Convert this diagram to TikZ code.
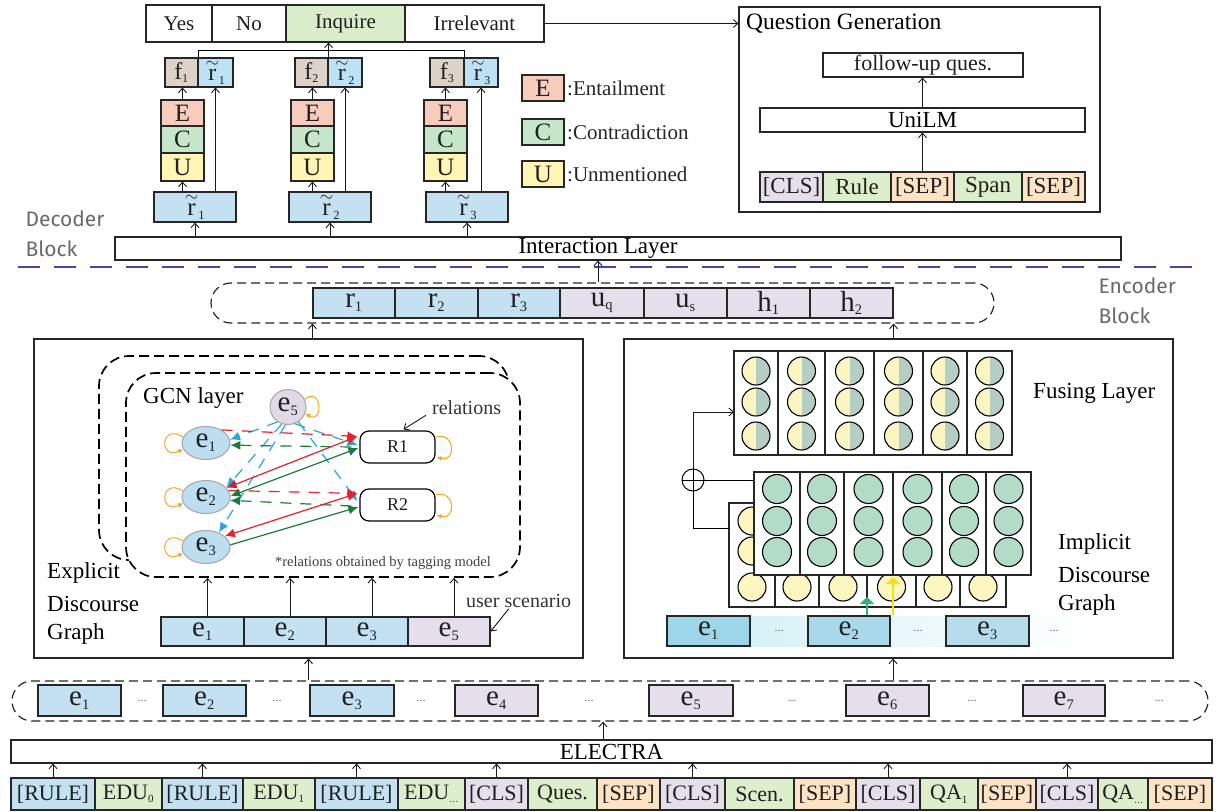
\documentclass[tikz,border=0pt]{standalone}
\usepackage{fontspec}
\setmainfont{Liberation Serif}
\newfontfamily\blockfont{Fira Sans}
\usetikzlibrary{arrows.meta,shapes.geometric,calc}
\newcommand\fz[1]{\fontsize{#1}{#1}\selectfont}
\newcommand\lab[2]{$\mathrm{#1}_{\scriptscriptstyle\mathrm{#2}}$}
\newcommand\tlab[1]{${\stackrel{\sim}{\mathrm{r}}}_{\scriptscriptstyle\mathrm{#1}}$}
\newcommand\boxnode[7][]{\node[cell,#1,minimum width={#5-#3},minimum height={#6-#4}] (#2) at ({(#3+#5)/2},{(#4+#6)/2}) {#7};}
\definecolor{blueC}{HTML}{C4E1F1}
\definecolor{lavC}{HTML}{E5DFEC}
\definecolor{grnC}{HTML}{DDEECD}
\definecolor{sepC}{HTML}{FDE3C6}
\definecolor{inqC}{HTML}{D9EDCB}
\definecolor{fC}{HTML}{DCD2C7}
\definecolor{rtC}{HTML}{BEE2F5}
\definecolor{Ecol}{HTML}{F8CCBD}
\definecolor{Ccol}{HTML}{C6E6CA}
\definecolor{Ucol}{HTML}{FFF5B5}
\definecolor{ellC}{HTML}{BCDEF0}
\definecolor{e5C}{HTML}{E0DAE6}
\definecolor{redA}{HTML}{E8222A}
\definecolor{redB}{HTML}{C1272D}
\definecolor{grnA}{HTML}{1B7A3A}
\definecolor{bluA}{HTML}{2AA5DE}
\definecolor{orgA}{HTML}{F6A623}
\definecolor{fyel}{HTML}{FBF5C4}
\definecolor{fgrn}{HTML}{B5CEC3}
\definecolor{gcirc}{HTML}{B2DCC6}
\definecolor{ycirc}{HTML}{FEF6C0}
\definecolor{divC}{HTML}{4646A6}
\definecolor{grayT}{HTML}{6A6A6A}
\definecolor{ieA}{HTML}{9DD5E9}
\definecolor{ieB}{HTML}{A8D8EA}
\definecolor{ieC}{HTML}{B6DCEC}
\definecolor{bandA}{HTML}{CDEFF5}
\definecolor{grnArr}{HTML}{2DB37A}
\definecolor{yelArr}{HTML}{F4E11C}
\begin{document}
\begin{tikzpicture}[x=1pt,y=-1pt,
  cell/.style={draw=black!85,line width=1.1pt,inner sep=0pt,text=black!88},
  arr/.style={draw=black!90,line width=0.9pt,-{Straight Barb[length=4.5pt,width=8pt]}},
  dashbox/.style={cell,dash pattern=on 9pt off 5pt,line width=1.2pt,fill=none},
  gdash/.style={cell,dash pattern=on 10pt off 5pt,line width=1.7pt,draw=black},
  ell/.style={ellipse,draw=black!35,line width=1pt,inner sep=0pt,font=\fz{29},text=black!88},
  gtip/.style={line width=1.2pt,-{Latex[length=10pt,width=9pt]}},
  gdsh/.style={gtip,dash pattern=on 11pt off 9pt},
  loopst/.style={draw=orgA,line width=1pt,-{Latex[length=5pt,width=5pt]}},
  blk/.style={font=\blockfont\fz{21},text=grayT,anchor=west},
  dots/.style={font=\fz{12},text=black!60}]
\fill[white] (0,0) rectangle (1217,811);
\useasboundingbox (0,0) rectangle (1217,811);

% ===== Decoder =====
\boxnode[font=\fz{21}]{yes}{146}{5}{212}{42}{Yes}
\boxnode[font=\fz{21}]{no}{212}{5}{286}{42}{No}
\boxnode[font=\fz{21},fill=inqC]{inq}{286}{5}{405}{42}{Inquire}
\boxnode[font=\fz{21}]{irr}{405}{5}{544}{42}{Irrelevant}

\boxnode[fill=fC,font=\fz{24}]{f1}{165}{58}{198}{87}{\lab{f}{1}}
\boxnode[fill=rtC,font=\fz{24}]{t1}{198}{58}{233}{87}{\tlab{1}}
\boxnode[fill=fC,font=\fz{24}]{f2}{295}{58}{328}{87}{\lab{f}{2}}
\boxnode[fill=rtC,font=\fz{24}]{t2}{328}{58}{362}{87}{\tlab{2}}
\boxnode[fill=fC,font=\fz{24}]{f3}{430}{58}{464}{87}{\lab{f}{3}}
\boxnode[fill=rtC,font=\fz{24}]{t3}{464}{58}{498}{87}{\tlab{3}}

\boxnode[fill=Ecol,font=\fz{25}]{E1}{161}{100}{204}{126}{E}
\boxnode[fill=Ccol,font=\fz{25}]{C1}{161}{126}{204}{153}{C}
\boxnode[fill=Ucol,font=\fz{25}]{U1}{161}{153}{204}{181}{U}
\boxnode[fill=Ecol,font=\fz{25}]{E2}{291}{100}{334}{126}{E}
\boxnode[fill=Ccol,font=\fz{25}]{C2}{291}{126}{334}{153}{C}
\boxnode[fill=Ucol,font=\fz{25}]{U2}{291}{153}{334}{181}{U}
\boxnode[fill=Ecol,font=\fz{25}]{E3}{424}{100}{467}{126}{E}
\boxnode[fill=Ccol,font=\fz{25}]{C3}{424}{126}{467}{153}{C}
\boxnode[fill=Ucol,font=\fz{25}]{U3}{424}{153}{467}{181}{U}

\boxnode[fill=blueC,font=\fz{25}]{rb1}{154}{192}{236}{222}{\tlab{1}}
\boxnode[fill=blueC,font=\fz{25}]{rb2}{289}{192}{371}{222}{\tlab{2}}
\boxnode[fill=blueC,font=\fz{25}]{rb3}{426}{192}{508}{222}{\tlab{3}}

\boxnode{inter}{115}{237}{1121}{260}{}
\node[font=\fz{23},text=black] (intert) at (598,248) {Interaction Layer};

\foreach \k in {1,2,3}{
  \draw[arr] (U\k.south |- rb\k.north) -- (U\k.south);
  \draw[arr] (E\k.north) -- (E\k.north |- f\k.south);
  \draw[arr] (t\k.south |- rb\k.north) -- (t\k.south);
  \draw[arr] (rb\k.south |- inter.north) -- (rb\k.south);
}
\coordinate (bus) at (0,50);
\draw[line width=0.9pt] (f1.north east) |- (f3.north east |- bus) -- (f3.north east);
\draw[arr] (f2.north east) -- (f2.north east |- inq.south);

% legend
\boxnode[fill=Ecol,font=\fz{25}]{LE}{522}{75}{564}{101}{E}
\boxnode[fill=Ccol,font=\fz{25}]{LC}{522}{119}{564}{145}{C}
\boxnode[fill=Ucol,font=\fz{25}]{LU}{522}{161}{564}{187}{U}
\node[anchor=west,font=\fz{21},text=black!85,inner sep=0pt] (LEt) at (567,88) {:Entailment};
\node[anchor=west,font=\fz{21},text=black!85,inner sep=0pt] (LCt) at (567,132) {:Contradiction};
\node[anchor=west,font=\fz{21},text=black!85,inner sep=0pt] (LUt) at (567,174) {:Unmentioned};

% question generation
\boxnode{qg}{739}{7}{1100}{212}{}
\node[anchor=west,font=\fz{23.5},text=black,inner sep=0pt] (qgt) at (746,24) {Question Generation};
\boxnode[font=\fz{22}]{fu}{823}{53}{1023}{77}{follow-up ques.}
\boxnode[font=\fz{23},text=black]{unilm}{760}{108}{1085}{132}{UniLM}
\foreach \xa/\xb/\col/\txt [count=\i] in {760/823/lavC/{[CLS]},823/891/grnC/{Rule},891/954/sepC/{[SEP]},954/1022/grnC/{Span},1022/1085/sepC/{[SEP]}}{
  \boxnode[fill=\col,font=\fz{23}]{q\i}{\xa}{172}{\xb}{202}{\txt}
}
\draw[arr] (q3.north) -- (q3.north |- unilm.south);
\draw[arr] (unilm.north -| q3.north) -- (q3.north |- fu.south);
\draw[arr] (irr.east) -- (irr.east -| qg.west);

\node[blk] (dec1) at (22,219) {Decoder};
\node[blk] (dec2) at (22,249) {Block};
\node[blk] (enc1) at (1095,286) {Encoder};
\node[blk] (enc2) at (1095,316) {Block};
\draw[divC,line width=1.3pt,dash pattern=on 22pt off 14pt] (18,267) -- (1192,267);

% ===== r row =====
\boxnode[dashbox,rounded corners=20]{rcont}{211}{283}{994}{323}{}
\foreach \xa/\xb/\col/\nm/\sb [count=\i] in {313/395/blueC/r/1,395/478/blueC/r/2,478/560/blueC/r/3,560/644/lavC/u/q,644/727/lavC/u/s,727/810/lavC/h/1,810/893/lavC/h/2}{
  \boxnode[fill=\col,font=\fz{29}]{rr\i}{\xa}{288}{\xb}{318}{\lab{\nm}{\sb}}
}
\draw[arr] (rcont.north -| intert.center) -- (inter.south -| intert.center);

% ===== Explicit =====
\boxnode{expl}{34}{339}{583}{658}{}
\boxnode{impl}{624}{339}{1173}{658}{}
\draw[arr] (expl.north -| rr1.south west) -- (rcont.south -| rr1.south west);
\draw[arr] (impl.north -| rr7.south east) -- (rcont.south -| rr7.south east);

\boxnode[gdash,rounded corners=30]{gout}{99}{356}{509}{560}{}
\boxnode[gdash,rounded corners=30,fill=white]{gin}{126}{373}{520}{577}{}
\node[anchor=west,font=\fz{23},text=black,inner sep=0pt] (gcnt) at (143,398) {GCN layer};

\node[ell,fill=ellC,minimum width=48,minimum height=33] (g1) at (206,443) {\lab{e}{1}};
\node[ell,fill=ellC,minimum width=48,minimum height=33] (g2) at (206,497) {\lab{e}{2}};
\node[ell,fill=ellC,minimum width=48,minimum height=33] (g3) at (206,547) {\lab{e}{3}};
\node[ell,fill=e5C,minimum width=36,minimum height=35] (g5) at (288,407) {\lab{e}{5}};
\boxnode[rounded corners=9,font=\fz{18},draw=black,line width=1.2pt]{R1}{360}{431}{435}{463}{R1}
\boxnode[rounded corners=9,font=\fz{18},draw=black,line width=1.2pt]{R2}{360}{489}{435}{521}{R2}

% blue dashed
\draw[gdsh,bluA] (g5.235) -- (g1.8);
\draw[gdsh,bluA] (g5.250) -- (g2.25);
\draw[gdsh,bluA] (g5.262) -- (g3.48);
\draw[gdsh,bluA] (g5.292) -- ($(R1.west)+(-2,-2)$);
\draw[gdsh,bluA] (g5.305) -- ($(R2.west)+(-2,-4)$);
% red / green dashed
\draw[gdsh,redA] (g1.40) -- ($(R1.north west)+(-2,6)$);
\draw[gdsh,grnA] ($(R1.west)+(-8,0)$) -- (g1.355);
\draw[gdsh,redA] (g2.16) -- ($(R2.north west)+(-2,5)$);
\draw[gdsh,grnA] ($(R2.west)+(-8,1)$) -- (g2.352);
% solid
\draw[redA,line width=1.2pt,{Latex[length=10pt,width=9pt,color=redB]}-{Latex[length=10pt,width=9pt]}] (g2.24) -- ($(R1.north west)+(-2,6)$);
\draw[grnA,line width=1.2pt,{Latex[length=10pt,width=9pt]}-{Latex[length=10pt,width=9pt]}] (g2.2) -- ($(R1.west)+(-1,1)$);
\draw[redA,line width=1.2pt,{Latex[length=10pt,width=9pt]}-{Latex[length=10pt,width=9pt]}] (g3.30) -- ($(R2.north west)+(-2,5)$);
\draw[grnA,gtip] (g3.5) -- ($(R2.west)+(-1,2)$);
% loops
\foreach \n in {g1,g2,g3}{
  \draw[loopst] (\n.165) .. controls +(-24,-14) and +(-24,12) .. (\n.195);
}
\draw[loopst] (g5.25) .. controls +(18,-14) and +(18,12) .. (g5.-20);
\draw[loopst] ($(R1.east)+(0,-10)$) .. controls +(20,-6) and +(20,6) .. ($(R1.east)+(1,10)$);
\draw[loopst] ($(R2.east)+(0,-10)$) .. controls +(20,-6) and +(20,6) .. ($(R2.east)+(1,10)$);

\node[anchor=west,font=\fz{20},text=black!80,inner sep=0pt] (rels) at (432,408) {relations};
\draw[arr] ($(rels.south west)+(-6,0)$) -- ($(R1.north)+(6,-1)$);
\node[font=\fz{14.5},text=black!75] (fn) at (383,563) {*relations obtained by tagging model};

\boxnode[fill=blueC,font=\fz{29}]{ee1}{161}{617}{244}{646}{\lab{e}{1}}
\boxnode[fill=blueC,font=\fz{29}]{ee2}{244}{617}{326}{646}{\lab{e}{2}}
\boxnode[fill=blueC,font=\fz{29}]{ee3}{326}{617}{408}{646}{\lab{e}{3}}
\boxnode[fill=lavC,font=\fz{29}]{ee5}{408}{617}{490}{646}{\lab{e}{5}}
\foreach \n in {ee1,ee2,ee3,ee5}{
  \draw[arr] ($(\n.north)+(5,0)$) -- ($(\n.north |- gin.south)+(5,0)$);
}
\node[anchor=west,font=\fz{20},text=black!80,inner sep=0pt] (uscen) at (466,601) {user scenario};
\draw[arr] ($(uscen.south)+(-10,1)$) -- (ee5.east);
\node[anchor=west,font=\fz{23},text=black,inner sep=0pt] (ex1) at (47,573) {Explicit};
\node[anchor=west,font=\fz{23},text=black,inner sep=0pt] (ex2) at (47,604) {Discourse};
\node[anchor=west,font=\fz{23},text=black,inner sep=0pt] (ex3) at (47,634) {Graph};

% ===== Implicit =====
\foreach \xa/\xb in {734/778,778/825,825/874,874/923,923/967,967/1012}{
  \draw[line width=1.1pt,draw=black!85] (\xa,351) rectangle (\xb,455);
  \foreach \yy in {371,402,436}{
    \begin{scope}
      \clip ({(\xa+\xb)/2},\yy) circle (14pt);
      \fill[fyel] ({(\xa+\xb)/2-15},{\yy-15}) rectangle ({(\xa+\xb)/2},{\yy+15});
      \fill[fgrn] ({(\xa+\xb)/2},{\yy-15}) rectangle ({(\xa+\xb)/2+15},{\yy+15});
    \end{scope}
    \draw[line width=1.1pt] ({(\xa+\xb)/2},\yy) circle (14pt);
  }
}
\node[anchor=west,font=\fz{23},text=black,inner sep=0pt] (fus) at (1033,393) {Fusing Layer};
\foreach \xa/\xb in {729/775,775/819,819/867,867/916,916/960,960/1006}{
  \draw[line width=1.1pt,draw=black!85,fill=white] (\xa,503) rectangle (\xb,607);
  \foreach \yy in {521,551,587}{
    \draw[line width=1.1pt,fill=ycirc] ({(\xa+\xb)/2},\yy) circle (14pt);
  }
}
\foreach \xa/\xb in {754/800,800/844,844/893,893/942,942/986,986/1031}{
  \draw[line width=1.1pt,draw=black!85,fill=white] (\xa,472) rectangle (\xb,575);
  \foreach \yy in {489,521,552}{
    \draw[line width=1.1pt,fill=gcirc] ({(\xa+\xb)/2},\yy) circle (14.5pt);
  }
}
\node[circle,draw,line width=1pt,minimum size=22,inner sep=0pt] (oplus) at (693,480) {};
\draw[line width=1pt] (oplus.north) -- (oplus.south) (oplus.west) -- (oplus.east);
\coordinate (gL) at (754,480);
\coordinate (yL) at (729,528);
\coordinate (fL) at (734,412);
\draw[line width=1pt] (oplus.east) -- (gL);
\draw[line width=1pt] (yL) -| (oplus.south);
\draw[arr] (oplus.north) |- (fL);

\shade[left color=bandA,right color=white] (667,616) rectangle (1095,646);
\boxnode[fill=ieA,font=\fz{29}]{ie1}{667}{616}{750}{646}{\lab{e}{1}}
\boxnode[fill=ieB,font=\fz{29}]{ie2}{808}{616}{890}{646}{\lab{e}{2}}
\boxnode[fill=ieC,font=\fz{29}]{ie3}{946}{616}{1029}{646}{\lab{e}{3}}
\node[dots] (idt1) at (779,631) {...};
\node[dots] (idt2) at (918,631) {...};
\node[dots] (idt3) at (1054,631) {...};
\coordinate (ga) at (867,597);
\coordinate (ya) at (893,577);
\draw[grnArr,line width=1.2pt,-{Triangle[length=7pt,width=14pt]}] (ie2.north -| ga) -- (ga);
\draw[yelArr,line width=1.8pt,-{Triangle[length=7pt,width=14pt]}] (ie2.north -| ya) -- (ya);
\node[anchor=west,font=\fz{23},text=black,inner sep=0pt] (im1) at (1058,544) {Implicit};
\node[anchor=west,font=\fz{23},text=black,inner sep=0pt] (im2) at (1058,575) {Discourse};
\node[anchor=west,font=\fz{23},text=black,inner sep=0pt] (im3) at (1058,605) {Graph};

% ===== bottom e row =====
\boxnode[dashbox,rounded corners=20]{econt}{12}{681}{1208}{721}{}
\foreach \xa/\xb/\col/\sb [count=\i] in {38/121/blueC/1,163/246/blueC/2,310/394/blueC/3,455/538/lavC/4,649/733/lavC/5,846/929/lavC/6,1023/1105/lavC/7}{
  \boxnode[fill=\col,font=\fz{29}]{be\i}{\xa}{685}{\xb}{716}{\lab{e}{\sb}}
}
\foreach \xx [count=\i] in {142,277,421,589,792,972,1159}{
  \node[dots] (bd\i) at (\xx,701) {...};
}
\coordinate (xi) at (893,0);
\coordinate (xe) at (603,0);
\draw[arr] (econt.north -| expl.south) -- (expl.south);
\draw[arr] (econt.north -| xi) -- (impl.south -| xi);

\boxnode[font=\fz{23},text=black]{electra}{11}{740}{1212}{763}{ELECTRA}
\draw[arr] (electra.north -| xe) -- (econt.south -| xe);

\foreach \xa/\xb/\col/\txt [count=\i] in {11/95/blueC/{[RULE]},95/162/grnC/{\lab{EDU}{0}},162/243/blueC/{[RULE]},243/315/grnC/{\lab{EDU}{1}},315/398/blueC/{[RULE]},398/465/grnC/{\lab{EDU}{\dots}},465/528/lavC/{[CLS]},528/597/grnC/{Ques.},597/660/sepC/{[SEP]},660/725/lavC/{[CLS]},725/794/grnC/{Scen.},794/856/sepC/{[SEP]},856/920/lavC/{[CLS]},920/978/grnC/{\lab{QA}{1}},978/1036/sepC/{[SEP]},1036/1098/lavC/{[CLS]},1098/1148/grnC/{\lab{QA}{\dots}},1148/1212/sepC/{[SEP]}}{
  \boxnode[fill=\col,font=\fz{22}]{tk\i}{\xa}{778}{\xb}{810}{\txt}
}
\foreach \i in {1,3,5,7,10,13,16}{
  \draw[arr] (tk\i.north) -- (tk\i.north |- electra.south);
}
\end{tikzpicture}
\end{document}
